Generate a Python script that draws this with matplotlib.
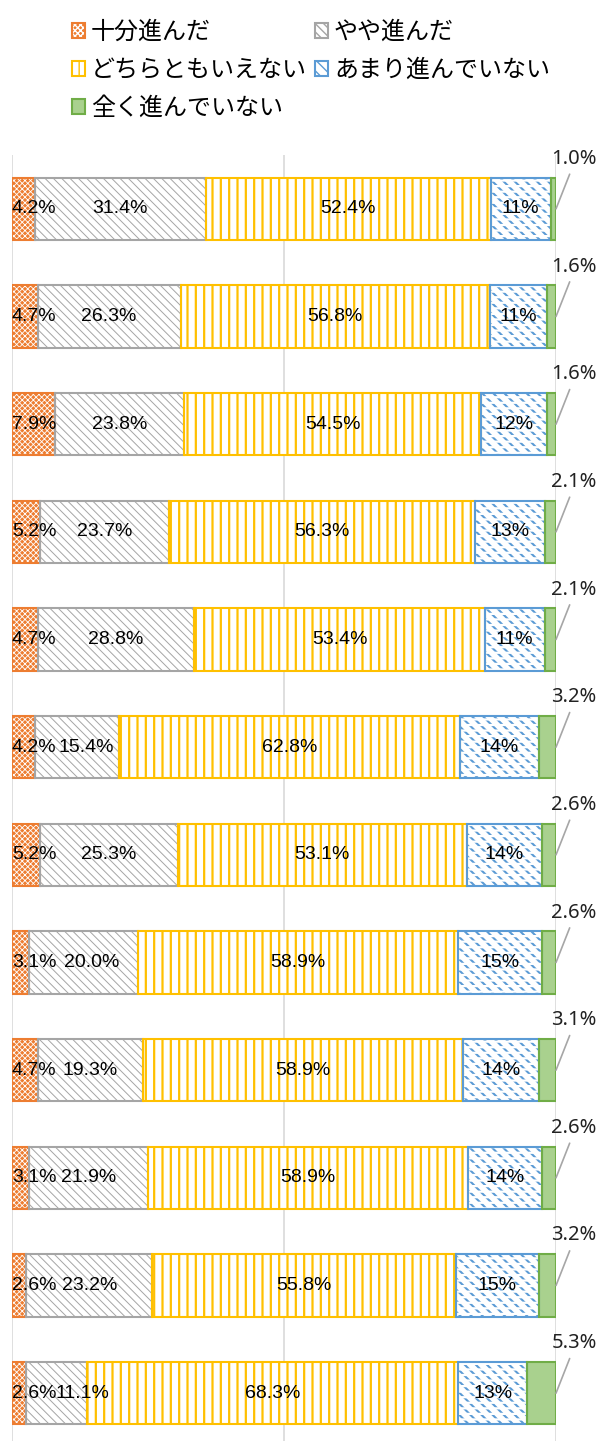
import matplotlib
matplotlib.use("Agg")
import matplotlib.pyplot as plt
from matplotlib.patches import Rectangle
import numpy as np

plt.rcParams['font.family'] = ['Noto Sans CJK JP', 'DejaVu Sans']

series_names = ["十分進んだ", "やや進んだ", "どちらともいえない", "あまり進んでいない", "全く進んでいない"]

# one value per bar, top bar first (percent)
sufficient = [4.2, 4.7, 7.9, 5.2, 4.7, 4.2, 5.2, 3.1, 4.7, 3.1, 2.6, 2.6]
somewhat = [31.4, 26.3, 23.8, 23.7, 28.8, 15.4, 25.3, 20.0, 19.3, 21.9, 23.2, 11.1]
neither = [52.4, 56.8, 54.5, 56.3, 53.4, 62.8, 53.1, 58.9, 58.9, 58.9, 55.8, 68.3]
not_much = [11.0, 10.6, 12.2, 12.7, 11.0, 14.4, 13.8, 15.4, 14.0, 13.5, 15.2, 12.7]
not_at_all = [1.0, 1.6, 1.6, 2.1, 2.1, 3.2, 2.6, 2.6, 3.1, 2.6, 3.2, 5.3]

# face, hatch colour, hatch, edge, label format
styles = [
    ("#ED7D31", "white", "xxxxxx", "#ED7D31", "{:.1f}%"),
    ("white", "#A5A5A5", "\\\\\\\\", "#A5A5A5", "{:.1f}%"),
    ("white", "#FFC000", "||", "#FFC000", "{:.1f}%"),
    ("white", "#5B9BD5", "\\\\\\", "#5B9BD5", "{:.0f}%"),
    ("#A9D18E", "#A9D18E", "", "#70AD47", "{:.1f}%"),
]
hatch_lw = [0.6, 0.7, 1.6, 1.5, 0.5]

# labels of the second segment that were nudged right (pixels) to clear the first label
somewhat_label_shift = {5: 10, 7: 8, 11: 26}

data = [sufficient, somewhat, neither, not_much, not_at_all]
n = len(sufficient)
y = np.arange(n)

fig = plt.figure(figsize=(6.0, 14.41), dpi=100)
ax = fig.add_axes([12 / 600, 1 - 1447 / 1441, 544 / 600, 1292 / 1441])
ax.set_xlim(0, 100)
ax.set_ylim(n - 0.5, -0.5)
ax.set_xticks([0, 50, 100])
ax.xaxis.grid(True, color="#D9D9D9", linewidth=1.2, zorder=0)
ax.set_axisbelow(True)
ax.tick_params(length=0, labelbottom=False, labelleft=False)
ax.set_yticks([])
for s in ax.spines.values():
    s.set_visible(False)

px_per_pct = 544 / 100
label_font = ['Liberation Sans', 'DejaVu Sans']
bar_h = 0.576
left = np.zeros(n)
handles = []
for k, vals in enumerate(data):
    face, hcol, hatch, edge, fmt = styles[k]
    vals = np.array(vals)
    base = ax.barh(y, vals, left=left, height=bar_h, color=face, edgecolor=hcol,
                   hatch=hatch, linewidth=0, zorder=2)
    for p in base:
        if hasattr(p, "set_hatch_linewidth"):
            p.set_hatch_linewidth(hatch_lw[k])
    if k == 3:
        # break the blue diagonals into short dashes
        gaps = ax.barh(y, vals, left=left, height=bar_h, color="none", edgecolor="white",
                       hatch="---", linewidth=0, zorder=2.5)
        for p in gaps:
            if hasattr(p, "set_hatch_linewidth"):
                p.set_hatch_linewidth(1.6)
    ax.barh(y, vals, left=left, height=bar_h, fill=False, edgecolor=edge,
            linewidth=1.5, zorder=3)
    h1 = Rectangle((0, 0), 1, 1, facecolor=face, edgecolor=hcol, hatch=hatch, linewidth=0)
    h2 = Rectangle((0, 0), 1, 1, fill=False, edgecolor=edge, linewidth=1.5)
    handles.append((h1, h2))

    for i in range(n):
        if k == 0:
            # narrow first segment: label starts at the plot edge
            ax.text(0, y[i], fmt.format(vals[i]), ha="left", va="center",
                    fontsize=14, family=label_font, color="black", zorder=5)
        elif k < 4:
            cx = left[i] + vals[i] / 2
            if k == 1:
                cx += somewhat_label_shift.get(i, 0) / px_per_pct
            ax.text(cx, y[i], fmt.format(vals[i]), ha="center", va="center",
                    fontsize=14, family=label_font, color="black", zorder=5)
        else:
            ax.annotate(fmt.format(vals[i]), xy=(left[i] + vals[i], y[i]),
                        xytext=(13, 36), textcoords="offset points",
                        ha="center", va="center", fontsize=14.5, color="#222222",
                        family=['Noto Sans', 'DejaVu Sans'],
                        arrowprops=dict(arrowstyle="-", color="#A6A6A6", lw=1.2,
                                        shrinkA=2, shrinkB=0, relpos=(0.45, 0.0)),
                        zorder=5, annotation_clip=False)
    left = left + vals

order = [0, 2, 4, 1, 3]
fig.legend([handles[i] for i in order], [series_names[i] for i in order],
           loc="upper left", bbox_to_anchor=(72 / 600, 1 - 19 / 1441), ncol=2,
           frameon=False, fontsize=17.3, handlelength=0.54, handleheight=0.54,
           handletextpad=0.25, columnspacing=0.33, labelspacing=0.5,
           borderaxespad=0, borderpad=0)

fig.savefig("out.png", dpi=100)
